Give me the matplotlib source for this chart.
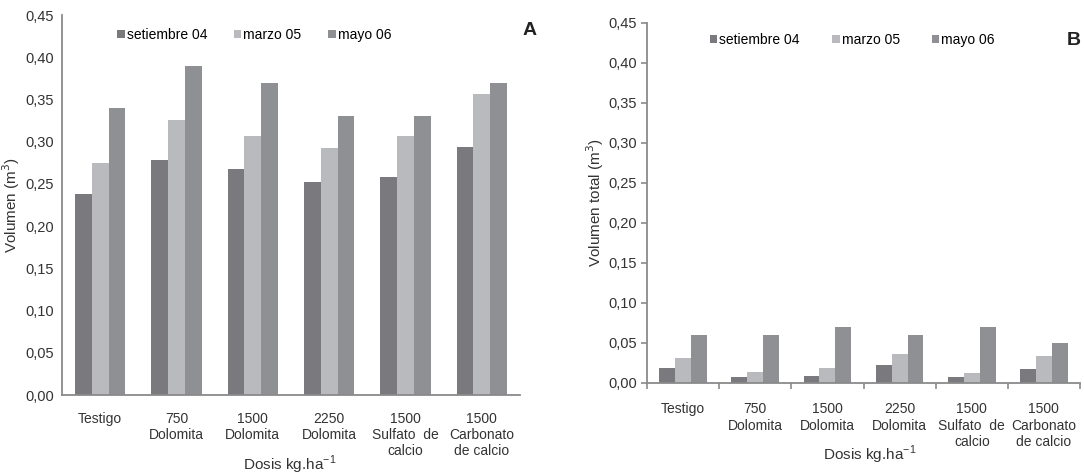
import matplotlib
matplotlib.use("Agg")
from matplotlib import pyplot as plt
import numpy as np

plt.rcParams['font.family'] = ['Liberation Sans', 'DejaVu Sans']

categories = ["Testigo", "750\nDolomita", "1500\nDolomita", "2250\nDolomita",
              "1500\nSulfato  de\ncalcio", "1500\nCarbonato\nde calcio"]
series_names = ["setiembre 04", "marzo 05", "mayo 06"]

# Panel A - volumen (m3)
a_sep04 = [0.238, 0.278, 0.268, 0.252, 0.258, 0.294]
a_mar05 = [0.275, 0.326, 0.307, 0.293, 0.307, 0.357]
a_may06 = [0.340, 0.390, 0.370, 0.330, 0.330, 0.370]

# Panel B - volumen total (m3)
b_sep04 = [0.019, 0.007, 0.009, 0.022, 0.007, 0.018]
b_mar05 = [0.031, 0.014, 0.019, 0.036, 0.012, 0.034]
b_may06 = [0.060, 0.060, 0.070, 0.060, 0.070, 0.050]

yticks = [0.0, 0.05, 0.10, 0.15, 0.20, 0.25, 0.30, 0.35, 0.40, 0.45]
ytick_labels = ["0,00", "0,05", "0,10", "0,15", "0,20", "0,25", "0,30", "0,35", "0,40", "0,45"]

colors = ["#7a7a7e", "#b9babe", "#8f9094"]
spine_col = "#8a8a8a"
txt_col = "#333333"

fig = plt.figure(figsize=(10.84, 4.75), dpi=100)
axA = fig.add_axes([0.0572, 0.1684, 0.4225, 0.80])
axB = fig.add_axes([0.5969, 0.1937, 0.3994, 0.758])


def draw(ax, data, ylabel, letter, ticks, legend_anchor, colspace, letter_pos, xlab_pos):
    x = np.arange(len(categories))
    w = 0.22
    for i, vals in enumerate(data):
        ax.bar(x + (i - 1) * w, vals, w, color=colors[i], label=series_names[i])
    ax.set_xlim(-0.5, len(categories) - 0.5)
    ax.set_ylim(0, 0.45)
    ax.set_yticks(yticks)
    ax.set_yticklabels(ytick_labels, fontsize=10.5, color=txt_col)
    ax.set_xticks(x)
    ax.set_xticklabels(categories, fontsize=10, color=txt_col, linespacing=1.2)
    for s in ["top", "right"]:
        ax.spines[s].set_visible(False)
    for s in ["left", "bottom"]:
        ax.spines[s].set_color(spine_col)
        ax.spines[s].set_linewidth(1.3)
    if ticks:
        ax.set_xticks(np.arange(-0.5, len(categories)), minor=True)
        ax.tick_params(axis="x", which="minor", length=4, color=spine_col, width=1.2)
        ax.tick_params(axis="x", which="major", length=0, pad=14)
        ax.tick_params(axis="y", length=4, color=spine_col, width=1.2, pad=3)
    else:
        ax.tick_params(axis="x", length=0, pad=12)
        ax.tick_params(axis="y", length=0, pad=6)
    ax.set_ylabel(ylabel, fontsize=11, color=txt_col, labelpad=2)
    ax.set_xlabel("Dosis kg.ha$^{\\mathregular{-1}}$", fontsize=11, color=txt_col)
    ax.xaxis.set_label_coords(xlab_pos[0], xlab_pos[1])
    ax.xaxis.label.set_va("center")
    ax.legend(ncol=3, loc="center left", bbox_to_anchor=legend_anchor, frameon=False,
              fontsize=10, handlelength=0.55, handleheight=0.55, handletextpad=0.15,
              columnspacing=colspace, borderaxespad=0)
    ax.text(letter_pos[0], letter_pos[1], letter, transform=ax.transAxes, fontsize=14,
            fontweight="bold", color="#222222", ha="center", va="center")


draw(axA, [a_sep04, a_mar05, a_may06], "Volumen (m$^3$)", "A", False,
     (0.108, 0.947), 1.9, (1.02, 0.96), (0.498, -0.184))
draw(axB, [b_sep04, b_mar05, b_may06], "Volumen total (m$^3$)", "B", True,
     (0.132, 0.953), 2.3, (0.985, 0.95), (0.515, -0.2))

fig.savefig("out.png", dpi=100)
